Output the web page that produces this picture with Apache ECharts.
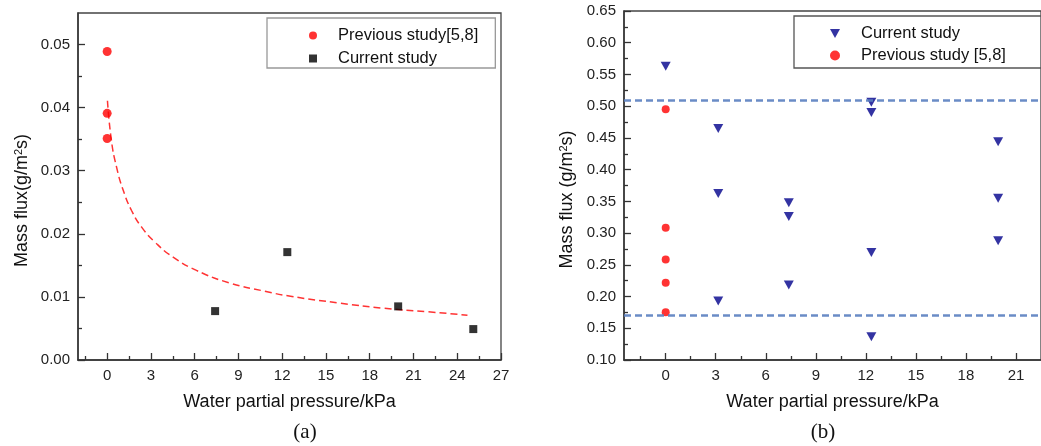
<!DOCTYPE html>
<html>
<head>
<meta charset="utf-8">
<script src="https://cdn.jsdelivr.net/npm/echarts@6/dist/echarts.min.js"></script>
<style>
  html, body { margin: 0; padding: 0; background: #fff; }
  #chart { width: 1041px; height: 446px; }
</style>
</head>
<body>
<div id="chart"></div>
<script>
// panel (a)
let prevA_x = [0, 0, 0];
let prevA_y = [0.0489, 0.0391, 0.0351];
let currA_x = [7.4, 12.35, 19.95, 25.1];
let currA_y = [0.00775, 0.0171, 0.0085, 0.0049];
let fitA_x = [0.02, 0.29, 0.64, 1.1, 1.67, 2.35, 3.27, 4.52, 6.12, 8.41, 10.81, 12.57, 16.0, 18.97, 21.95, 24.7];
let fitA_y = [0.0411, 0.0348, 0.0306, 0.0269, 0.0237, 0.0211, 0.0187, 0.0163, 0.0142, 0.0122, 0.0109, 0.0101, 0.0090, 0.0082, 0.00765, 0.0071];

// panel (b)
let currB_x = [0, 3.15, 3.15, 3.15, 7.38, 7.38, 7.38, 12.33, 12.33, 12.33, 12.33, 19.93, 19.93, 19.93];
let currB_y = [0.563, 0.465, 0.3625, 0.193, 0.348, 0.326, 0.218, 0.506, 0.490, 0.2696, 0.1367, 0.4438, 0.355, 0.288];
let prevB_x = [0, 0, 0, 0, 0];
let prevB_y = [0.4953, 0.3084, 0.2585, 0.2218, 0.1751];
let limitsB = [0.512, 0.167];

// tick positions
let xTicksA = [0, 3, 6, 9, 12, 15, 18, 21, 24, 27];
let xMinorA = [-1.5, 1.5, 4.5, 7.5, 10.5, 13.5, 16.5, 19.5, 22.5, 25.5];
let yTicksA = [0, 0.01, 0.02, 0.03, 0.04, 0.05];
let yMinorA = [0.005, 0.015, 0.025, 0.035, 0.045];
let xTicksB = [0, 3, 6, 9, 12, 15, 18, 21];
let xMinorB = [-1.5, 1.5, 4.5, 7.5, 10.5, 13.5, 16.5, 19.5];
let yTicksB = [0.1, 0.15, 0.2, 0.25, 0.3, 0.35, 0.4, 0.45, 0.5, 0.55, 0.6, 0.65];
let yMinorB = [0.125, 0.175, 0.225, 0.275, 0.325, 0.375, 0.425, 0.475, 0.525, 0.575, 0.625];

const FONT = "'Liberation Sans', Arial, sans-serif";
const AXIS_COLOR = '#333';
const LABEL_COLOR = '#222';

function pairs(xs, ys) {
    let out = [];
    for (let i = 0; i < xs.length; i++) {
        out.push([xs[i], ys[i]]);
    }
    return out;
}

// axis carrying the line, labels and name
function mainAxis(grid, min, max, ticks, fmt, extra) {
    return Object.assign({
        type: 'value',
        gridIndex: grid,
        min: min,
        max: max,
        axisLine: { show: true, onZero: false, lineStyle: { color: AXIS_COLOR, width: 1.5 } },
        axisTick: { show: false },
        axisLabel: { show: true, customValues: ticks, color: LABEL_COLOR, fontSize: 15, fontFamily: FONT, formatter: fmt },
        splitLine: { show: false }
    }, extra);
}

// overlay axis that only draws inward ticks
function tickAxis(grid, min, max, ticks, len, pos) {
    return {
        type: 'value',
        gridIndex: grid,
        min: min,
        max: max,
        position: pos,
        axisLine: { show: false, onZero: false },
        axisTick: { show: true, inside: true, length: len, customValues: ticks, lineStyle: { color: AXIS_COLOR, width: 1.3 } },
        axisLabel: { show: false, customValues: ticks },
        splitLine: { show: false }
    };
}

let fmtInt = function (v) { return String(Math.round(v)); };
let fmt2 = function (v) { return v.toFixed(2); };

let xNameStyle = { color: '#111', fontSize: 18, fontFamily: FONT };
let yNameStyle = {
    color: '#111', fontSize: 18, fontFamily: FONT, padding: [0, 28, 0, 0],
    rich: { sup: { fontSize: 11, fontFamily: FONT, color: '#111', verticalAlign: 'top', padding: [0, 0, 8, 0] } }
};
let legendText = { color: '#111', fontSize: 16.5, fontFamily: FONT, padding: [0, 0, 0, 16] };

let chart = echarts.init(document.getElementById('chart'), null, { renderer: 'canvas' });

let option = {
    animation: false,
    backgroundColor: '#fff',
    grid: [
        { left: 78, top: 13, width: 423, height: 347, show: true, borderColor: '#444', borderWidth: 1.3 },
        { left: 624, top: 11, width: 428, height: 349, show: true, borderColor: '#444', borderWidth: 1.3 }
    ],
    xAxis: [
        mainAxis(0, -2, 27, xTicksA, fmtInt, {
            position: 'bottom', name: 'Water partial pressure/kPa', nameLocation: 'middle', nameGap: 33, nameTextStyle: xNameStyle
        }),
        mainAxis(1, -2.5, 22.5, xTicksB, fmtInt, {
            position: 'bottom', name: 'Water partial pressure/kPa', nameLocation: 'middle', nameGap: 33, nameTextStyle: xNameStyle
        }),
        tickAxis(0, -2, 27, xTicksA, 7, 'bottom'),
        tickAxis(0, -2, 27, xMinorA, 4, 'bottom'),
        tickAxis(1, -2.5, 22.5, xTicksB, 7, 'bottom'),
        tickAxis(1, -2.5, 22.5, xMinorB, 4, 'bottom')
    ],
    yAxis: [
        mainAxis(0, 0, 0.055, yTicksA, fmt2, {
            position: 'left', name: 'Mass flux(g/m{sup|2}s)', nameLocation: 'middle', nameGap: 46, nameTextStyle: yNameStyle
        }),
        mainAxis(1, 0.1, 0.65, yTicksB, fmt2, {
            position: 'left', name: 'Mass flux (g/m{sup|2}s)', nameLocation: 'middle', nameGap: 47, nameTextStyle: yNameStyle
        }),
        tickAxis(0, 0, 0.055, yTicksA, 7, 'left'),
        tickAxis(0, 0, 0.055, yMinorA, 4, 'left'),
        tickAxis(1, 0.1, 0.65, yTicksB, 7, 'left'),
        tickAxis(1, 0.1, 0.65, yMinorB, 4, 'left')
    ],
    legend: [
        {
            orient: 'vertical',
            left: 267,
            top: 18,
            padding: [9, 17, 1, 42],
            itemGap: 6,
            itemWidth: 8,
            itemHeight: 8,
            borderColor: '#999',
            borderWidth: 1.3,
            textStyle: legendText,
            data: ['Previous study[5,8]', 'Current study']
        },
        {
            orient: 'vertical',
            left: 794,
            top: 16,
            padding: [9, 40, 4, 36],
            itemGap: 5,
            itemWidth: 10,
            itemHeight: 10,
            borderColor: '#555',
            borderWidth: 1.3,
            textStyle: legendText,
            data: [
                { name: 'Current study ', icon: 'path://M0,0L10,0L5,9Z' },
                'Previous study [5,8]'
            ]
        }
    ],
    graphic: [
        { type: 'text', x: 305, y: 432, style: { text: '(a)', font: "21px 'Liberation Serif', 'Times New Roman', serif", fill: '#111', align: 'center', verticalAlign: 'middle' } },
        { type: 'text', x: 823, y: 432, style: { text: '(b)', font: "21px 'Liberation Serif', 'Times New Roman', serif", fill: '#111', align: 'center', verticalAlign: 'middle' } }
    ],
    series: [
        {
            name: 'fit',
            type: 'line',
            xAxisIndex: 0,
            yAxisIndex: 0,
            smooth: true,
            showSymbol: false,
            silent: true,
            z: 1,
            lineStyle: { color: '#ff3333', width: 1.5, type: [7, 4] },
            data: pairs(fitA_x, fitA_y)
        },
        {
            name: 'Previous study[5,8]',
            type: 'scatter',
            xAxisIndex: 0,
            yAxisIndex: 0,
            symbol: 'circle',
            symbolSize: 9,
            itemStyle: { color: '#ff0000' },
            z: 3,
            data: pairs(prevA_x, prevA_y)
        },
        {
            name: 'Current study',
            type: 'scatter',
            xAxisIndex: 0,
            yAxisIndex: 0,
            symbol: 'rect',
            symbolSize: 8,
            itemStyle: { color: '#000' },
            z: 3,
            data: pairs(currA_x, currA_y)
        },
        {
            name: 'Current study ',
            type: 'scatter',
            xAxisIndex: 1,
            yAxisIndex: 1,
            symbol: 'triangle',
            symbolRotate: 180,
            symbolSize: [10, 9],
            itemStyle: { color: '#00008b' },
            z: 3,
            data: pairs(currB_x, currB_y),
            markLine: {
                silent: true,
                symbol: 'none',
                label: { show: false },
                lineStyle: { color: '#5a80c0', width: 2.5, type: [7, 4], opacity: 0.9 },
                data: limitsB.map(function (v) { return { yAxis: v }; })
            }
        },
        {
            name: 'Previous study [5,8]',
            type: 'scatter',
            xAxisIndex: 1,
            yAxisIndex: 1,
            symbol: 'circle',
            symbolSize: 8,
            itemStyle: { color: '#ff0000' },
            z: 4,
            data: pairs(prevB_x, prevB_y)
        }
    ]
};
chart.setOption(option);
</script>
</body>
</html>
